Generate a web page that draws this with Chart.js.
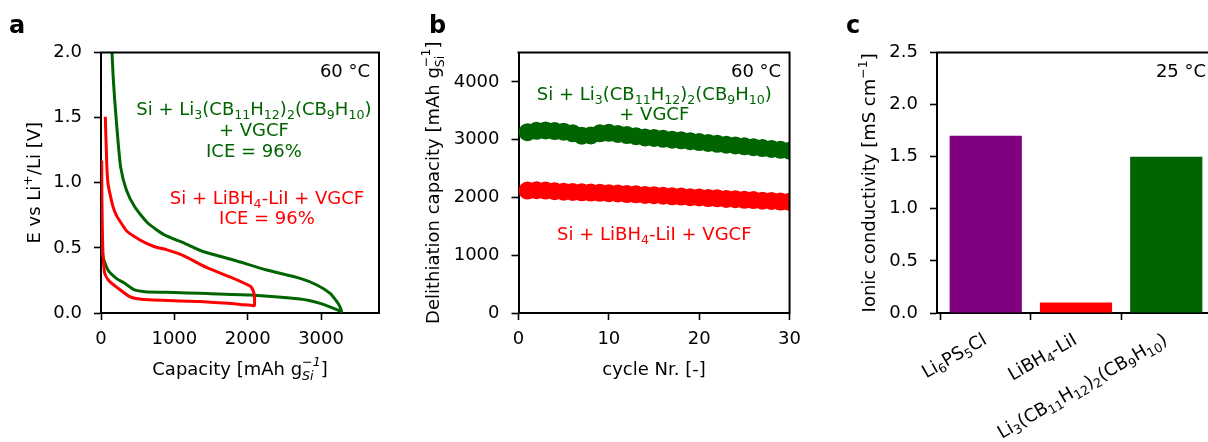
<!DOCTYPE html>
<html lang="en">
<head>
  <meta charset="UTF-8">
  <title>Si composite anodes</title>
  <script src="https://cdn.jsdelivr.net/npm/chart.js"></script>
  <style>
    html, body { margin: 0; padding: 0; background: #fff; overflow: hidden; }
    body { width: 1208px; height: 442px; position: relative; }
    canvas { position: absolute; top: 0; }
  </style>
</head>
<body>
  <canvas id="chartA" width="400" height="442" style="left:0px"></canvas>
  <canvas id="chartB" width="400" height="442" style="left:410px"></canvas>
  <canvas id="chartC" width="420" height="442" style="left:820px"></canvas>
  <script>
    // ---- panel a: first cycle voltage profiles (points in drawing order) ----
    const capLiI = [10, 12, 20, 27, 50, 118, 232, 391, 550, 1096, 1351, 1732, 1900, 2085,
                    2093, 2090, 2070, 2040, 1988, 1805, 1578, 1351, 1200, 1050, 900, 732, 600, 459, 350, 277, 210, 164, 120, 95, 80, 73, 65, 59];
    const voltLiI = [1.17, 0.90, 0.60, 0.458, 0.305, 0.241, 0.19, 0.125, 0.105, 0.092, 0.088, 0.074, 0.066, 0.056,
                     0.06, 0.138, 0.177, 0.205, 0.22, 0.266, 0.317, 0.374, 0.42, 0.458, 0.485, 0.509, 0.54, 0.586, 0.63, 0.689, 0.75, 0.816, 0.92, 0.996, 1.12, 1.25, 1.38, 1.507];
    const capCloso = [5, 27, 95, 209, 323, 459, 596, 1000, 1351, 2033, 2715, 2988, 3169, 3261, 3280,
                      3255, 3216, 3124, 2943, 2715, 2261, 1805, 1400, 1141, 868, 641, 459, 346, 268, 223, 187, 165, 150];
    const voltCloso = [0.56, 0.432, 0.33, 0.266, 0.228, 0.177, 0.164, 0.157, 0.151, 0.138, 0.107, 0.074, 0.036, 0.015, 0.01,
                       0.05, 0.087, 0.151, 0.215, 0.266, 0.33, 0.407, 0.47, 0.535, 0.599, 0.689, 0.816, 0.944, 1.12, 1.38, 1.635, 1.82, 2.0];
    const capTicks = [0, 1000, 2000, 3000];
    const voltTicks = [0, 0.5, 1.0, 1.5, 2.0];

    // ---- panel b: delithiation capacity vs cycle ----
    const cycles = [1, 2, 3, 4, 5, 6, 7, 8, 9, 10, 11, 12, 13, 14, 15, 16, 17, 18, 19, 20, 21, 22, 23, 24, 25, 26, 27, 28, 29, 30];
    const delithCloso = [3130, 3155, 3160, 3150, 3140, 3110, 3070, 3075, 3110, 3120, 3100, 3080, 3060, 3040, 3030,
                         3015, 3000, 2990, 2975, 2960, 2945, 2930, 2915, 2900, 2885, 2870, 2855, 2840, 2825, 2810];
    const delithLiI = [2120, 2125, 2120, 2110, 2100, 2095, 2090, 2085, 2080, 2075, 2070, 2060, 2055, 2045, 2040,
                       2030, 2020, 2015, 2005, 2000, 1990, 1985, 1975, 1970, 1960, 1955, 1945, 1940, 1930, 1925];
    const cycleTicks = [0, 10, 20, 30];
    const capacityTicks = [0, 1000, 2000, 3000, 4000];

    // ---- panel c: ionic conductivity at 25 °C ----
    const electrolytes = ['Li_{6}PS_{5}Cl', 'LiBH_{4}-LiI', 'Li_{3}(CB_{11}H_{12})_{2}(CB_{9}H_{10})'];
    const conductivity = [1.7, 0.1, 1.5];
    const condTicks = [0, 0.5, 1.0, 1.5, 2.0, 2.5];

    const GREEN = '#006400', RED = '#ff0000', PURPLE = '#800080';
    const FONT = "'DejaVu Sans', sans-serif";
    const FS = 18;

    Chart.defaults.font.family = FONT;
    Chart.defaults.font.size = FS;
    Chart.defaults.color = '#000';

    // split "Li_{3}(CB_{11})" style markup into normal / sub / sup parts
    function richParts(str) {
      const re = /_\{([^}]*)\}|\^\{([^}]*)\}|[^_^]+/g;
      const out = [];
      let m;
      while ((m = re.exec(str))) {
        if (m[1] !== undefined) out.push({ sub: m[1] });
        else if (m[2] !== undefined) {
          const last = out[out.length - 1];
          if (last && last.sub !== undefined && last.sup === undefined) last.sup = m[2];
          else out.push({ sup: m[2] });
        } else out.push({ text: m[0] });
      }
      return out;
    }

    function drawRich(ctx, str, x, y, o) {
      o = o || {};
      const size = o.size || FS;
      const small = size * 0.7;
      const big = (o.bold ? 'bold ' : '') + size + 'px ' + FONT;
      const sm = (o.subItalic ? 'italic ' : '') + small + 'px ' + FONT;
      const parts = richParts(str);
      ctx.save();
      let w = 0;
      parts.forEach(p => {
        if (p.text !== undefined) { ctx.font = big; p.w = ctx.measureText(p.text).width; }
        else {
          ctx.font = sm;
          p.w = Math.max(p.sub ? ctx.measureText(p.sub).width : 0, p.sup ? ctx.measureText(p.sup).width : 0);
        }
        w += p.w;
      });
      ctx.translate(x, y);
      if (o.rotate) ctx.rotate(o.rotate);
      let cx = o.align === 'center' ? -w / 2 : o.align === 'right' ? -w : 0;
      ctx.fillStyle = o.color || '#000';
      ctx.textBaseline = 'alphabetic';
      ctx.textAlign = 'left';
      parts.forEach(p => {
        if (p.text !== undefined) { ctx.font = big; ctx.fillText(p.text, cx, 0); }
        else {
          ctx.font = sm;
          const stacked = p.sub !== undefined && p.sup !== undefined;
          if (p.sub !== undefined) ctx.fillText(p.sub, cx, size * (stacked ? 0.3 : 0.2));
          if (p.sup !== undefined) ctx.fillText(p.sup, cx, -size * (stacked ? 0.5 : 0.42));
        }
        cx += p.w;
      });
      ctx.restore();
      return w;
    }

    function linAxis(min, max, tickVals, fmt, pad, fit) {
      return {
        type: 'linear', min: min, max: max,
        afterBuildTicks: s => { s.ticks = tickVals.map(v => ({ value: v })); },
        afterFit: fit,
        ticks: { callback: fmt, padding: pad, autoSkip: false, maxRotation: 0, minRotation: 0, color: '#000', font: { size: FS } },
        grid: { drawOnChartArea: false, drawTicks: true, tickLength: 7, tickWidth: 1.6, tickColor: '#000' },
        border: { display: true, color: '#000', width: 2 }
      };
    }
    const yFit = w => s => { s.width = w; };
    const xFit = h => s => { s.height = h; };
    const pairs = (xs, ys) => xs.map((x, i) => ({ x: x, y: ys[i] }));

    // spines, panel letter, axis titles and in-plot notes
    function decor(cfg) {
      return {
        id: 'decor',
        afterDraw(chart) {
          const ctx = chart.ctx, a = chart.chartArea;
          ctx.save();
          ctx.strokeStyle = '#000';
          ctx.lineWidth = 2;
          ctx.beginPath();
          ctx.moveTo(a.left - 1, a.top);
          ctx.lineTo(a.right, a.top);
          ctx.lineTo(a.right, a.bottom + 1);
          ctx.stroke();
          ctx.restore();

          drawRich(ctx, cfg.letter, cfg.letterX, 33, { size: 24, bold: true });
          cfg.notes.forEach(n => drawRich(ctx, n.s, a.left + n.fx * a.width, a.top + n.fy * a.height,
            { align: n.align || 'center', color: n.color }));
          if (cfg.xTitle) drawRich(ctx, cfg.xTitle, (a.left + a.right) / 2, a.bottom + 62,
            { align: 'center', subItalic: cfg.subItalic });
          drawRich(ctx, cfg.yTitle, a.left - cfg.yGap, (a.top + a.bottom) / 2,
            { align: 'center', rotate: -Math.PI / 2, subItalic: cfg.subItalic });
          if (cfg.extra) cfg.extra(chart);
        }
      };
    }

    const baseOpts = (pad) => ({
      responsive: false,
      animation: false,
      events: [],
      layout: { padding: pad, autoPadding: false },
      plugins: { legend: { display: false }, tooltip: { enabled: false } }
    });

    // ---------------- panel a ----------------
    new Chart(document.getElementById('chartA'), {
      type: 'scatter',
      data: {
        datasets: [
          { data: pairs(capLiI, voltLiI), borderColor: RED },
          { data: pairs(capCloso, voltCloso), borderColor: GREEN }
        ].map(d => Object.assign(d, { showLine: true, pointRadius: 0, borderWidth: 3, tension: 0.2, fill: false, clip: 0 }))
      },
      options: Object.assign(baseOpts({ top: 52.5, right: 21, bottom: 0, left: 0 }), {
        scales: {
          x: linAxis(0, 3790, capTicks, v => String(v), 9, xFit(129)),
          y: linAxis(0, 2, voltTicks, v => v.toFixed(1), 12, yFit(101))
        }
      }),
      plugins: [decor({
        letter: 'a', letterX: 9,
        xTitle: 'Capacity [mAh g_{Si}^{\u22121}]', subItalic: true,
        yTitle: 'E vs Li^{+}/Li [V]', yGap: 61,
        notes: [
          { s: '60 \u00b0C', fx: 0.968, fy: 0.094, align: 'right' },
          { s: 'Si + Li_{3}(CB_{11}H_{12})_{2}(CB_{9}H_{10})', fx: 0.55, fy: 0.24, color: GREEN },
          { s: '+ VGCF', fx: 0.55, fy: 0.32, color: GREEN },
          { s: 'ICE = 96%', fx: 0.55, fy: 0.40, color: GREEN },
          { s: 'Si + LiBH_{4}-LiI + VGCF', fx: 0.597, fy: 0.582, color: RED },
          { s: 'ICE = 96%', fx: 0.597, fy: 0.658, color: RED }
        ]
      })]
    });

    // ---------------- panel b ----------------
    new Chart(document.getElementById('chartB'), {
      type: 'scatter',
      data: {
        datasets: [
          { data: pairs(cycles, delithCloso), backgroundColor: GREEN, borderColor: GREEN },
          { data: pairs(cycles, delithLiI), backgroundColor: RED, borderColor: RED }
        ].map(d => Object.assign(d, { showLine: false, pointRadius: 9, borderWidth: 0, clip: 0 }))
      },
      options: Object.assign(baseOpts({ top: 52.5, right: 13, bottom: 0, left: 0 }), {
        scales: {
          x: linAxis(0, 30, cycleTicks, v => String(v), 9, xFit(129)),
          y: linAxis(0, 4510, capacityTicks, v => String(v), 12, yFit(108.5))
        }
      }),
      plugins: [decor({
        letter: 'b', letterX: 19,
        xTitle: 'cycle Nr. [-]',
        yTitle: 'Delithiation capacity [mAh g_{Si}^{\u22121}]', yGap: 80,
        notes: [
          { s: '60 \u00b0C', fx: 0.969, fy: 0.094, align: 'right' },
          { s: 'Si + Li_{3}(CB_{11}H_{12})_{2}(CB_{9}H_{10})', fx: 0.501, fy: 0.182, color: GREEN },
          { s: '+ VGCF', fx: 0.501, fy: 0.259, color: GREEN },
          { s: 'Si + LiBH_{4}-LiI + VGCF', fx: 0.501, fy: 0.72, color: RED }
        ]
      })]
    });

    // ---------------- panel c ----------------
    const barColors = [PURPLE, RED, GREEN];
    new Chart(document.getElementById('chartC'), {
      type: 'bar',
      data: {
        datasets: [{
          data: conductivity.map((v, i) => ({ x: i, y: v })),
          backgroundColor: barColors,
          borderWidth: 0,
          categoryPercentage: 1.0,
          barPercentage: 0.8
        }]
      },
      options: Object.assign(baseOpts({ top: 52.5, right: 25, bottom: 0, left: 0 }), {
        scales: {
          x: Object.assign(linAxis(-0.54, 2.54, electrolytes.map((_, i) => i), v => '', 10, xFit(129)),
            { offset: false }),
          y: linAxis(0, 2.5, condTicks, v => v.toFixed(1), 12, yFit(117))
        }
      }),
      plugins: [decor({
        letter: 'c', letterX: 26,
        yTitle: 'Ionic conductivity [mS cm^{\u22121}]', yGap: 62,
        notes: [{ s: '25 \u00b0C', fx: 0.968, fy: 0.094, align: 'right' }],
        extra(chart) {
          const xs = chart.scales.x, a = chart.chartArea;
          electrolytes.forEach((name, i) => {
            drawRich(chart.ctx, name, xs.getPixelForValue(i) + 2, a.bottom + 30,
              { align: 'right', rotate: -Math.PI / 6 });
          });
        }
      })]
    });
  </script>
</body>
</html>
